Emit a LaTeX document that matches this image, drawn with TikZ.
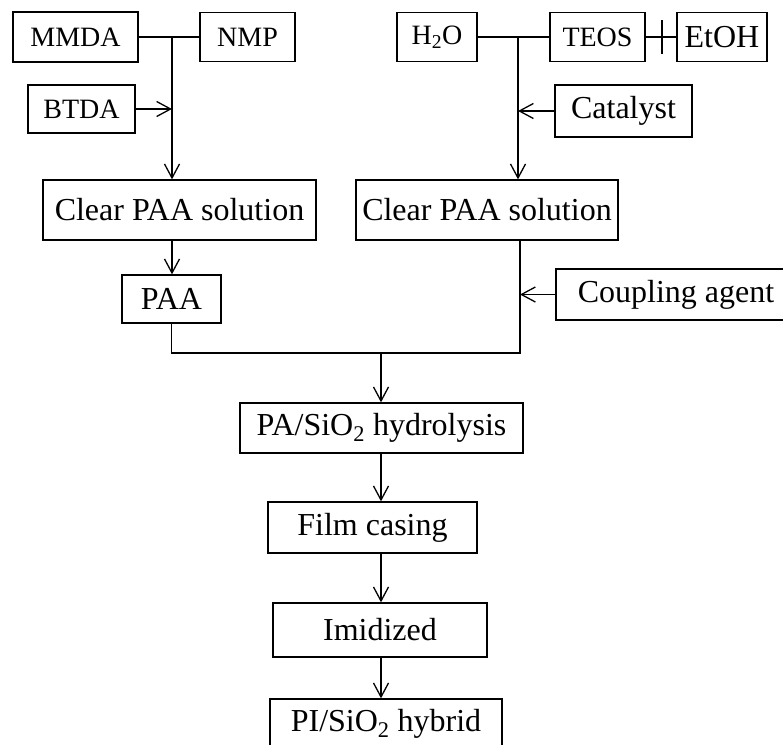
\documentclass[tikz,border=0pt]{standalone}
\usepackage{fontspec}
\setmainfont{Liberation Serif}
\usetikzlibrary{arrows.meta}
\begin{document}
\begin{tikzpicture}[x=1pt, y=-1pt, line width=1.3pt,
    >={Straight Barb[length=14pt,width=15pt]},
    box/.style={draw, inner sep=0pt, font=\fontsize{32}{35}\selectfont},
    smallbox/.style={box, font=\fontsize{28}{31}\selectfont}]
    \useasboundingbox (0,0) rectangle (783,744);

    % Zweig 1: PAA
    \node[smallbox, minimum width=125pt, minimum height=50pt] (mmda) at (75.5,37) {MMDA};
    \node[smallbox, minimum width=95pt, minimum height=49pt] (nmp) at (247.5,37) {NMP};
    \node[smallbox, minimum width=107pt, minimum height=48pt] (btda) at (81.5,109) {BTDA};
    \node[box, minimum width=273pt, minimum height=60pt] (clearL) at (179.5,210) {Clear PAA solution};
    \node[box, minimum width=99pt, minimum height=48pt] (paa) at (171.5,299) {PAA};
    \coordinate (j1) at (172,37);
    \draw (mmda) -- (nmp);
    \draw[->] (j1) -- (clearL.north -| j1);
    \draw[->] (btda) -- (btda -| j1);
    \draw[->] (clearL.south -| j1) -- (paa.north -| j1);

    % Zweig 2: TEOS
    \node[smallbox, minimum width=80pt, minimum height=49pt] (h2o) at (437,37) {H\textsubscript{2}O};
    \node[smallbox, minimum width=95pt, minimum height=49pt] (teos) at (597.5,37) {TEOS};
    \node[box, minimum width=90pt, minimum height=49pt] (etoh) at (722,37) {EtOH};
    \node[box, minimum width=137pt, minimum height=52pt] (catalyst) at (623.5,111) {Catalyst};
    \node[box, minimum width=262pt, minimum height=60pt] (clearR) at (487,210) {Clear PAA solution};
    \node[box, minimum width=240pt, minimum height=51pt] (coupling) at (676,294.5) {Coupling agent};
    \coordinate (j2) at (518,37);
    \coordinate (plus) at (662,37);
    \draw (h2o) -- (teos);
    \draw (teos) -- (etoh);
    \draw ([yshift=17pt]plus) -- ([yshift=-17pt]plus);
    \draw[->] (j2) -- (clearR.north -| j2);
    \draw[->] (catalyst) -- (catalyst -| j2);

    % Zusammenfuehrung
    \coordinate (jr) at (520,353);
    \coordinate (merge) at (381,353);
    \draw (paa.south) -- (paa.south |- jr) -- (jr) -- (jr |- clearR.south);
    \draw[->] (coupling) -- (coupling -| jr);

    % Hauptlinie
    \node[box, minimum width=283pt, minimum height=50pt] (pa) at (381.5,428) {PA/SiO\textsubscript{2} hydrolysis};
    \node[box, minimum width=209pt, minimum height=51pt] (film) at (372.5,527.5) {Film casing};
    \node[box, minimum width=214pt, minimum height=54pt] (imid) at (380,630) {Imidized};
    \node[box, minimum width=232pt, minimum height=50pt] (pi) at (386,724) {PI/SiO\textsubscript{2} hybrid};
    \draw[->] (merge) -- (pa.north -| merge);
    \draw[->] (pa.south -| merge) -- (film.north -| merge);
    \draw[->] (film.south -| merge) -- (imid.north -| merge);
    \draw[->] (imid.south -| merge) -- (pi.north -| merge);
\end{tikzpicture}
\end{document}
